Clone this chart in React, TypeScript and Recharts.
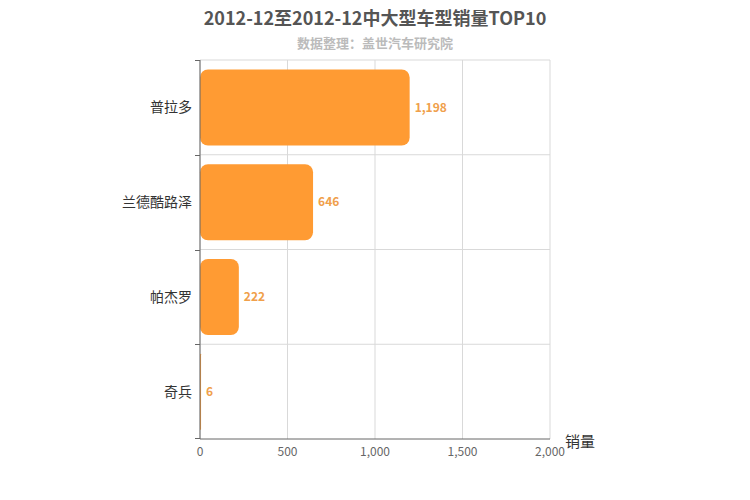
import { BarChart, Bar, XAxis, YAxis, CartesianGrid, LabelList } from "recharts";

const models = ["普拉多", "兰德酷路泽", "帕杰罗", "奇兵"];
const sales = [1198, 646, 222, 6];
const xTicks = [0, 500, 1000, 1500, 2000];

const data = models.map((name, i) => ({ name, sales: sales[i] }));

const FONT = '"Noto Sans CJK SC", "Noto Sans", sans-serif';
const W = 750;
const H = 500;
const M = { top: 60, right: 200, bottom: 31, left: 100 };
const Y_W = 100;
const AXIS_X = M.left + Y_W;
const PLOT_H = H - M.top - M.bottom - 30;
const BAND = PLOT_H / models.length;

// category label in the band centre, tick marks on the band edges
function CatTick(props: any) {
  const { y, payload, index } = props;
  const top = Math.round(y - BAND / 2) + 0.5;
  const bottom = Math.round(y + BAND / 2) - 0.5;
  return (
    <g>
      <path d={`M${AXIS_X - 5},${top}H${AXIS_X}`} stroke="#666" strokeWidth={1} fill="none" />
      {index === models.length - 1 && (
        <path d={`M${AXIS_X - 5},${bottom}H${AXIS_X}`} stroke="#666" strokeWidth={1} fill="none" />
      )}
      <text x={AXIS_X - 8} y={y} dy={5} textAnchor="end" fill="#333" fontSize={14} fontFamily={FONT}>
        {payload.value}
      </text>
    </g>
  );
}

export default function App() {
  return (
    <div style={{ position: "absolute", left: 0, top: 0, width: W, height: H, background: "#fff", fontFamily: FONT }}>
      <div style={{ position: "absolute", top: 4, width: W, textAlign: "center", fontSize: 18, fontWeight: 700, color: "#555" }}>
        2012-12至2012-12中大型车型销量TOP10
      </div>
      <div style={{ position: "absolute", top: 33, width: W, textAlign: "center", fontSize: 13, fontWeight: 700, color: "#bbb" }}>
        数据整理：盖世汽车研究院
      </div>
      <div style={{ position: "absolute", left: 565, top: 430, fontSize: 15, color: "#333" }}>销量</div>
      <BarChart width={W} height={H} data={data} layout="vertical" margin={M} barCategoryGap="10%">
        <CartesianGrid
          stroke="#d9d9d9"
          horizontalCoordinatesGenerator={({ offset }: any) =>
            models.map((_, i) => offset.top + (i * offset.height) / models.length)
          }
        />
        <XAxis
          type="number"
          domain={[0, 2000]}
          ticks={xTicks}
          tickFormatter={(v: number) => v.toLocaleString("en-US")}
          axisLine={{ stroke: "#666" }}
          tickLine={false}
          tick={{ fill: "#666", fontSize: 12, fontFamily: FONT }}
          height={30}
          interval={0}
        />
        <YAxis
          type="category"
          dataKey="name"
          width={Y_W}
          axisLine={{ stroke: "#666" }}
          tickLine={false}
          tick={<CatTick />}
          interval={0}
        />
        <Bar dataKey="sales" fill="#ff9b33" radius={8} isAnimationActive={false}>
          <LabelList
            dataKey="sales"
            position="right"
            formatter={(v: number) => v.toLocaleString("en-US")}
            fill="#f0a04b"
            fontSize={12}
            fontWeight={700}
            fontFamily={FONT}
          />
        </Bar>
      </BarChart>
    </div>
  );
}
